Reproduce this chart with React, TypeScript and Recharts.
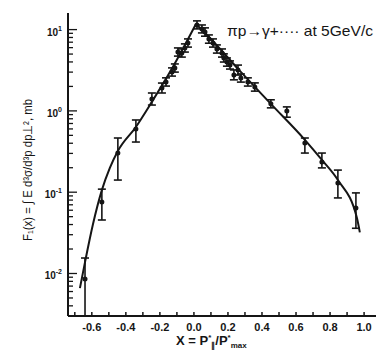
import React from 'react'
import { ComposedChart, Line, Scatter, ErrorBar, XAxis, YAxis } from 'recharts'

// measured points (x = p*/p*max, F1 in mb)
const pointX = [
  -0.64, -0.541, -0.447, -0.341, -0.247, -0.188, -0.164, -0.129, -0.112, -0.094, -0.071, -0.053, -0.035,
  0.018, 0.047, 0.065, 0.088, 0.112, 0.135, 0.165, 0.176, 0.194, 0.212, 0.235, 0.259, 0.276, 0.317, 0.358,
  0.452, 0.546, 0.652, 0.752, 0.846, 0.952,
]
const pointY = [
  0.00855, 0.0758, 0.303, 0.598, 1.4, 1.91, 2.27, 3.01, 3.37, 5.3, 5.15, 5.94, 6.84,
  11.4, 10.2, 9.34, 7.66, 6.84, 5.77, 5.15, 4.48, 3.99, 3.67, 2.77, 3.18, 2.54, 2.27, 1.97,
  1.22, 1.0, 0.403, 0.235, 0.13, 0.064,
]
const errHigh = [
  0.0155, 0.109, 0.464, 0.773, 1.66, 2.2, 2.55, 3.38, 3.78, 5.95, 5.78, 6.67, 7.68,
  12.8, 11.4, 10.5, 8.6, 7.68, 6.48, 5.78, 5.03, 4.48, 4.12, 3.19, 3.66, 2.85, 2.55, 2.21,
  1.37, 1.12, 0.464, 0.303, 0.187, 0.098,
]
const errLow = [
  0.003, 0.0455, 0.141, 0.414, 1.18, 1.66, 2.02, 2.68, 3.0, 4.72, 4.59, 5.29, 6.09,
  10.2, 9.1, 8.3, 6.8, 6.09, 5.14, 4.59, 3.99, 3.55, 3.27, 2.41, 2.76, 2.26, 2.02, 1.75,
  1.09, 0.836, 0.303, 0.199, 0.085, 0.036,
]

// fitted curve, two branches meeting at the peak
const curveLeftX = [-0.67, -0.64, -0.593, -0.541, -0.494, -0.447, -0.341, -0.247, -0.141, -0.053, 0.012]
const curveLeftY = [0.0066, 0.0138, 0.0406, 0.106, 0.199, 0.321, 0.634, 1.29, 3.0, 6.47, 11.7]
const curveRightX = [0.012, 0.094, 0.27, 0.452, 0.652, 0.752, 0.846, 0.958, 0.975]
const curveRightY = [11.7, 7.88, 3.1, 1.22, 0.44, 0.249, 0.141, 0.048, 0.032]

const xTicks = [-0.7, -0.6, -0.5, -0.4, -0.3, -0.2, -0.1, 0, 0.1, 0.2, 0.3, 0.4, 0.5, 0.6, 0.7, 0.8, 0.9, 1.0]
const xTickLabels = ['-0.6', '-0.4', '-0.2', '0.0', '0.2', '0.4', '0.6', '0.8', '1.0']
const yDecades = [0.01, 0.1, 1, 10]
const yDecadeExp = ['-2', '-1', '0', '1']
const yMinor = [
  0.003, 0.004, 0.005, 0.006, 0.007, 0.008, 0.009,
  0.02, 0.03, 0.04, 0.05, 0.06, 0.07, 0.08, 0.09,
  0.2, 0.3, 0.4, 0.5, 0.6, 0.7, 0.8, 0.9,
  2, 3, 4, 5, 6, 7, 8, 9,
]

const xDomain = [-0.74, 1.07]
const yDomain = [0.003, 16]
const ink = '#151515'
const font = '"Liberation Sans", Arial, sans-serif'

const points = pointX.map((x, i) => ({
  x,
  y: pointY[i],
  err: [pointY[i] - errLow[i], errHigh[i] - pointY[i]],
}))
const leftCurve = curveLeftX.map((x, i) => ({ x, y: curveLeftY[i] }))
const rightCurve = curveRightX.map((x, i) => ({ x, y: curveRightY[i] }))
const yTicks = [...yDecades, ...yMinor].sort((a, b) => a - b)

const decadeIndex = (v: number) => yDecades.findIndex((d) => Math.abs(d - v) / d < 1e-6)
const xLabelFor = (v: number) => xTickLabels.find((l) => Math.abs(parseFloat(l) - v) < 1e-6)

const BottomTick = ({ x, y, payload }: any) => {
  const label = xLabelFor(payload.value)
  return (
    <g>
      <line x1={x} x2={x} y1={y} y2={y - 4} stroke={ink} strokeWidth={1.5} />
      {label && (
        <text x={x} y={y + 15} textAnchor="middle" fontSize={11} fontWeight={700} fill={ink} fontFamily={font}>
          {label}
        </text>
      )}
    </g>
  )
}

const TopTick = ({ x, y }: any) => (
  <line x1={x} x2={x} y1={y} y2={y + 4} stroke={ink} strokeWidth={1.5} />
)

const LeftTick = ({ x, y, payload }: any) => {
  const k = decadeIndex(payload.value)
  const len = k >= 0 ? 9 : 5
  return (
    <g>
      <line x1={x} x2={x + len} y1={y} y2={y} stroke={ink} strokeWidth={1.3} />
      {k >= 0 && (
        <text x={x - 6} y={y + 6} textAnchor="end" fontSize={10} fontWeight={700} fill={ink} fontFamily={font}>
          10
          <tspan dy={-5} fontSize={7}>{yDecadeExp[k]}</tspan>
        </text>
      )}
    </g>
  )
}

const RightTick = ({ x, y, payload }: any) => {
  const len = decadeIndex(payload.value) >= 0 ? 9 : 5
  return <line x1={x} x2={x - len} y1={y} y2={y} stroke={ink} strokeWidth={1.3} />
}

const Dot = (props: any) => <circle cx={props.cx} cy={props.cy} r={2.5} fill={ink} />

export default function App() {
  const axisLine = { stroke: ink, strokeWidth: 2 }
  return (
    <div style={{ position: 'absolute', left: 0, top: 0, width: 383, height: 350, background: '#fff' }}>
      <ComposedChart width={383} height={350} margin={{ top: 13, right: 7, bottom: 0, left: 8 }}>
        <XAxis
          dataKey="x"
          type="number"
          domain={xDomain}
          ticks={xTicks}
          interval={0}
          height={34}
          tickSize={0}
          tickMargin={0}
          tick={BottomTick}
          axisLine={axisLine}
          allowDataOverflow
        />
        <XAxis
          xAxisId="top"
          orientation="top"
          type="number"
          domain={xDomain}
          ticks={xTicks}
          interval={0}
          height={0}
          tickSize={0}
          tickMargin={0}
          tick={TopTick}
          axisLine={axisLine}
          allowDataOverflow
        />
        <YAxis
          dataKey="y"
          type="number"
          scale="log"
          domain={yDomain}
          ticks={yTicks}
          interval={0}
          width={60}
          tickSize={0}
          tickMargin={0}
          tick={LeftTick}
          axisLine={axisLine}
          allowDataOverflow
        />
        <YAxis
          yAxisId="right"
          orientation="right"
          type="number"
          scale="log"
          domain={yDomain}
          ticks={yTicks}
          interval={0}
          width={0}
          tickSize={0}
          tickMargin={0}
          tick={RightTick}
          axisLine={axisLine}
          allowDataOverflow
        />
        <Line data={leftCurve} dataKey="y" type="monotone" dot={false} stroke={ink} strokeWidth={2} isAnimationActive={false} />
        <Line data={rightCurve} dataKey="y" type="monotone" dot={false} stroke={ink} strokeWidth={2} isAnimationActive={false} />
        <Scatter data={points} dataKey="y" shape={Dot} isAnimationActive={false}>
          <ErrorBar dataKey="err" direction="y" width={4} strokeWidth={1.6} stroke={ink} isAnimationActive={false} />
        </Scatter>
      </ComposedChart>
      <svg
        width={383}
        height={350}
        style={{ position: 'absolute', left: 0, top: 0, pointerEvents: 'none' }}
        fontFamily={font}
        fill={ink}
      >
        <text x={227} y={36} fontSize={15} textLength={146} lengthAdjust="spacingAndGlyphs">
          πp→γ+···· at 5GeV/c
        </text>
        <text
          transform="translate(32,170) rotate(-90)"
          textAnchor="middle"
          fontSize={13}
          textLength={142}
          lengthAdjust="spacingAndGlyphs"
        >
          F₁(x) = ∫ E d³σ/d³p dp⊥², mb
        </text>
        <text x={176} y={345} fontSize={13} fontWeight={700}>
          X = P
          <tspan dy={-5} fontSize={8}>*</tspan>
          <tspan dy={8} fontSize={8}>∥</tspan>
          <tspan dy={-3} fontSize={13}>/P</tspan>
          <tspan dy={-5} fontSize={8}>*</tspan>
          <tspan dy={8} fontSize={8}>max</tspan>
        </text>
      </svg>
    </div>
  )
}
